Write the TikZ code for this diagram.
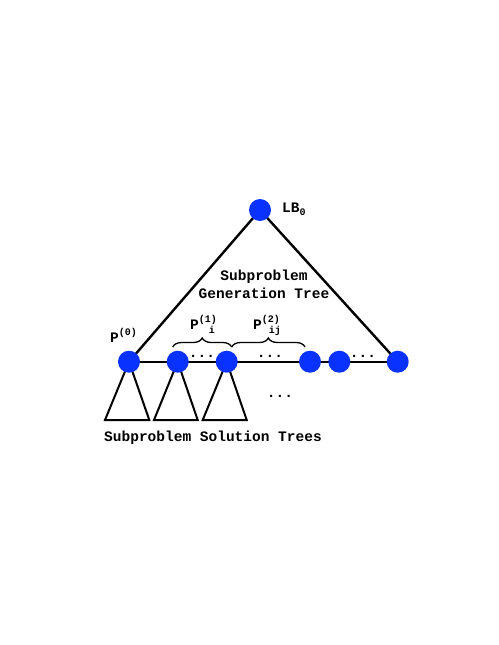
\documentclass[tikz,border=0pt]{standalone}
\usepackage{fontspec}
\setmonofont{Liberation Mono}
\usetikzlibrary{decorations.pathreplacing}
\tikzset{
  vtx/.style={circle,fill=nodeblue,inner sep=0pt,minimum size=22pt},
  edge/.style={line width=2.4pt,black},
  tri/.style={line width=2pt,black,line join=miter},
  lbl/.style={font=\ttfamily\bfseries\fontsize{14.5}{16}\selectfont,inner sep=0pt},
  brc/.style={decorate,decoration={brace,amplitude=9pt},line width=1.3pt}
}
\definecolor{nodeblue}{RGB}{10,50,255}
\newcommand{\supsub}[2]{\rlap{\raisebox{0.85ex}{\fontsize{10}{10}\selectfont #1}}\hbox to 1.8em{\hss\raisebox{-0.6ex}{\fontsize{10}{10}\selectfont #2}\hss}}
\begin{document}
\begin{tikzpicture}[x=1pt,y=-1pt]
\useasboundingbox (0,0) rectangle (498,645);
% positions
\coordinate (r) at (260,210);
\coordinate (a) at (129,361.7);
\coordinate (b) at (177.7,361.7);
\coordinate (c) at (226.7,361.7);
\coordinate (d) at (310,361.7);
\coordinate (e) at (339.3,361.7);
\coordinate (f) at (397.7,361.7);
\coordinate (a1) at (105,420); \coordinate (a2) at (149.3,420);
\coordinate (b1) at (154,420); \coordinate (b2) at (197.7,420);
\coordinate (c1) at (202.7,420); \coordinate (c2) at (246.7,420);
% edges
\draw[edge] (r) -- (a);
\draw[edge] (r) -- (f);
\draw[edge] (a) -- (f);
% triangles
\draw[tri] (a) -- (a1) -- (a2) -- cycle;
\draw[tri] (b) -- (b1) -- (b2) -- cycle;
\draw[tri] (c) -- (c1) -- (c2) -- cycle;
% vertices
\node[vtx] (R) at (r) {};
\node[vtx] (A) at (a) {};
\node[vtx] (B) at (b) {};
\node[vtx] (C) at (c) {};
\node[vtx] (D) at (d) {};
\node[vtx] (E) at (e) {};
\node[vtx] (F) at (f) {};
% braces
\coordinate (br1) at (172.7,347);
\coordinate (br2) at (231.7,347);
\coordinate (br3) at (305,347);
\draw[brc] (br1) -- (br2);
\draw[brc] (br2) -- (br3);
% labels
\node[lbl,anchor=west] (lb) at (282,209) {LB\raisebox{-0.45ex}{\fontsize{10}{10}\selectfont 0}};
\node[lbl,align=center] (gen) at (264,284.5) {Subproblem\\[1.5pt]Generation Tree};
\node[lbl,anchor=base west] (p0) at (110,342) {P\raisebox{0.8ex}{\fontsize{10}{10}\selectfont (0)}};
\node[lbl,anchor=base west] (p1) at (190,329) {P\supsub{(1)}{i}};
\node[lbl,anchor=base west] (p2) at (253,329) {P\supsub{(2)}{ij}};
\node[lbl] (dots1) at (202,356) {...};
\node[lbl] (dots2) at (270,356) {...};
\node[lbl] (dots3) at (363,356) {...};
\node[lbl] (dots4) at (280,396) {...};
\node[lbl] (sol) at (213,438) {Subproblem Solution Trees};
\end{tikzpicture}
\end{document}
